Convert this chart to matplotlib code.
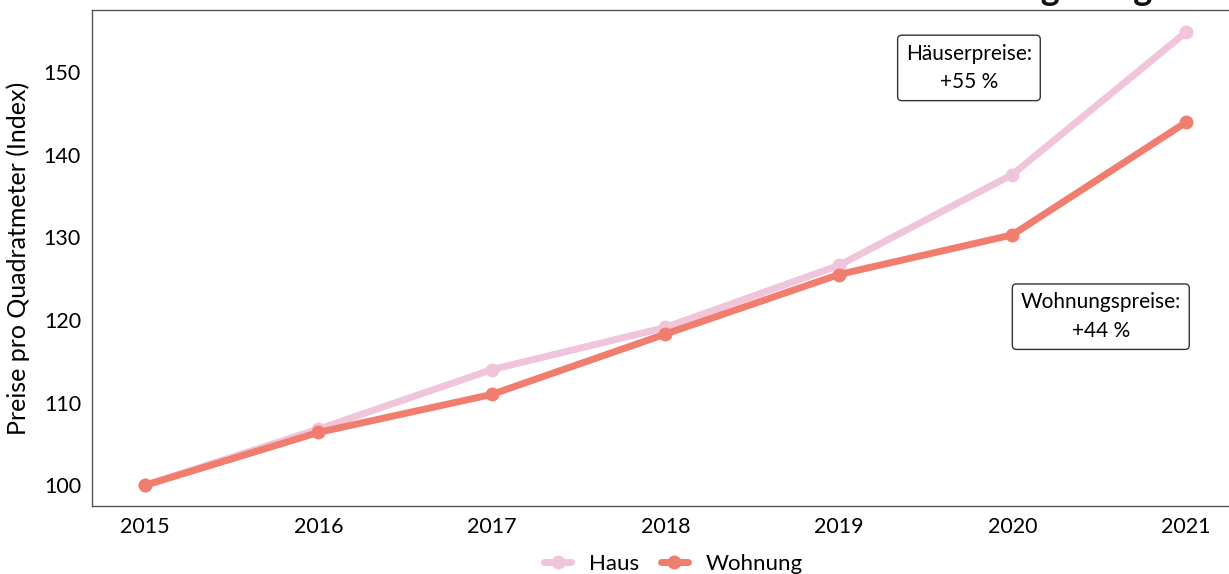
import matplotlib.pyplot as plt

plt.rcParams["font.family"] = ["Lato", "DejaVu Sans"]

years = [2015, 2016, 2017, 2018, 2019, 2020, 2021]
haus = [100, 106.8, 114.0, 119.1, 126.6, 137.6, 154.8]
wohnung = [100, 106.4, 111.0, 118.3, 125.5, 130.3, 143.9]
yticks = [100, 110, 120, 130, 140, 150]

c_haus = "#f0c4da"
c_wohn = "#f07d6e"

fig = plt.figure(figsize=(12.29, 5.74), dpi=100)
ax = fig.add_axes([0.0749, 0.1185, 0.933, 0.864])

ax.plot(years, haus, color=c_haus, linewidth=5, marker="o", markersize=9,
        label="Haus", solid_capstyle="round", zorder=2)
ax.plot(years, wohnung, color=c_wohn, linewidth=5, marker="o", markersize=9,
        label="Wohnung", solid_capstyle="round", zorder=3)

ax.set_xlim(2014.695, 2021.305)
ax.set_ylim(97.5, 157.5)
ax.set_xticks(years)
ax.set_yticks(yticks)
ax.tick_params(length=0, labelsize=15.5, pad=8)
ax.set_ylabel("Preise pro Quadratmeter (Index)", fontsize=18, labelpad=10)
for s in ["left", "top", "bottom"]:
    ax.spines[s].set_color("#555555")
    ax.spines[s].set_linewidth(1)
ax.spines["right"].set_visible(False)

box = dict(boxstyle="round,pad=0.4,rounding_size=0.2", fc="white", ec="#333333", lw=1)
ax.text(2019.75, 150.5, "Häuserpreise:\n+55 %", ha="center", va="center",
        fontsize=15, linespacing=1.55, bbox=box)
ax.text(2020.51, 120.4, "Wohnungspreise:\n+44 %", ha="center", va="center",
        fontsize=15, linespacing=1.55, bbox=box)

fig.text(0.938, 1.0, "Preissteigerung", ha="right", va="baseline",
         fontsize=26, fontweight="bold", color="#111111")

ax.legend(loc="upper center", bbox_to_anchor=(0.507, -0.057), ncol=2,
          frameon=False, fontsize=16, handlelength=1.2, handletextpad=0.8,
          columnspacing=1.0)

fig.savefig("out.png", dpi=100)
